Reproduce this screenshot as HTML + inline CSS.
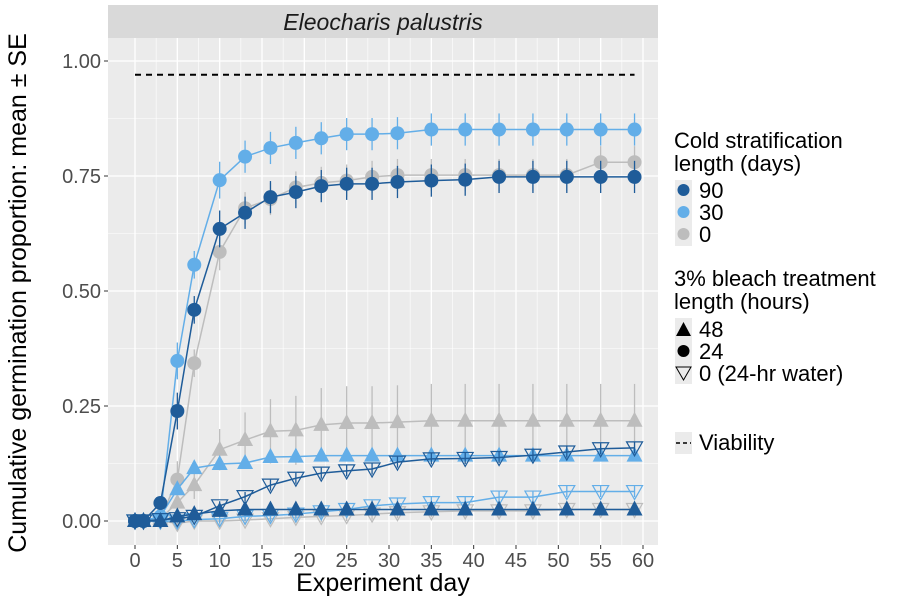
<!DOCTYPE html>
<html><head><meta charset="utf-8"><style>
body{margin:0;background:#fff;}
svg text{font-family:"Liberation Sans",Arial,sans-serif;}
</style></head><body>
<svg id="chart" width="904" height="603" xmlns="http://www.w3.org/2000/svg">
<rect x="0" y="0" width="904" height="603" fill="#fff"/>
<rect x="108" y="5" width="550" height="33" fill="#d9d9d9"/>
<text x="383" y="30" text-anchor="middle" font-size="23" font-style="italic" fill="#1a1a1a">Eleocharis palustris</text>
<rect x="108" y="38" width="550" height="507" fill="#ebebeb"/>
<g id="grid"></g>
<g id="ticks"></g>
<line id="viab" stroke="#000" stroke-width="2" stroke-dasharray="6,5"/>
<g id="series"></g>
<text transform="translate(26,293) rotate(-90)" text-anchor="middle" font-size="25" fill="#000">Cumulative germination proportion: mean ± SE</text>
<text x="383" y="591" text-anchor="middle" font-size="25" fill="#000">Experiment day</text>
<g font-size="22" fill="#000">
<text x="674" y="148">Cold stratification</text>
<text x="674" y="171">length (days)</text>
<rect x="675" y="180" width="17" height="66" fill="#ebebeb"/>
<circle cx="683.5" cy="190" r="6" fill="#1f5c99"/><text x="699" y="198">90</text>
<circle cx="683.5" cy="212" r="6" fill="#63aee8"/><text x="699" y="220">30</text>
<circle cx="683.5" cy="234" r="6" fill="#bdbdbd"/><text x="699" y="242">0</text>
<text x="674" y="286">3% bleach treatment</text>
<text x="674" y="309">length (hours)</text>
<rect x="675" y="318" width="17" height="66" fill="#ebebeb"/>
<polygon points="676,336 691,336 683.5,322" fill="#000"/><text x="699" y="337">48</text>
<circle cx="683.5" cy="351" r="6" fill="#000"/><text x="699" y="359">24</text>
<polygon points="676,367 691,367 683.5,380" fill="none" stroke="#000" stroke-width="1"/><text x="699" y="381">0 (24-hr water)</text>
<rect x="675" y="432" width="17" height="22" fill="#ebebeb"/>
<line x1="676" y1="443" x2="691" y2="443" stroke="#000" stroke-width="1.5" stroke-dasharray="4,3"/>
<text x="699" y="450">Viability</text>
</g>
</svg>
<script>
const days=[0,1,3,5,7,10,13,16,19,22,25,28,31,35,39,43,47,51,55,59];
const c90=[0,0,0.039,0.239,0.459,0.635,0.670,0.704,0.715,0.728,0.733,0.733,0.737,0.740,0.742,0.748,0.748,0.748,0.748,0.748];
const c30=[0,0,0.01,0.348,0.557,0.741,0.792,0.811,0.822,0.832,0.841,0.841,0.843,0.851,0.851,0.851,0.851,0.851,0.851,0.851];
const c0=[0,0,0.005,0.09,0.343,0.585,0.680,0.700,0.725,0.735,0.740,0.748,0.752,0.752,0.752,0.752,0.752,0.752,0.780,0.780];
const t90=[0,0,0,0.01,0.015,0.022,0.025,0.025,0.025,0.025,0.025,0.025,0.025,0.025,0.025,0.025,0.025,0.025,0.025,0.025];
const t30=[0,0,0.01,0.069,0.115,0.124,0.126,0.139,0.140,0.142,0.142,0.142,0.142,0.142,0.142,0.142,0.142,0.142,0.142,0.142];
const t0=[0,0,0.005,0.04,0.078,0.155,0.176,0.195,0.197,0.209,0.213,0.213,0.215,0.218,0.218,0.218,0.218,0.218,0.218,0.218];
const w90=[0,0,0.003,0.005,0.01,0.033,0.053,0.078,0.093,0.104,0.109,0.113,0.128,0.135,0.136,0.138,0.143,0.150,0.157,0.159];
const w30=[0,0,0,0,0.003,0.005,0.01,0.012,0.015,0.02,0.025,0.033,0.037,0.04,0.04,0.052,0.052,0.064,0.064,0.064];
const w0=[0,0,0,-0.005,0,0,0.002,0.005,0.008,0.01,0.012,0.015,0.018,0.02,0.022,0.022,0.022,0.025,0.025,0.025];
const seC=[0,0,0.01,0.04,0.03,0.04,0.035,0.035,0.035,0.035,0.035,0.035,0.035,0.035,0.035,0.035,0.035,0.035,0.035,0.035];
const seT0=[0,0,0.005,0.03,0.03,0.045,0.06,0.07,0.075,0.08,0.08,0.08,0.08,0.08,0.08,0.08,0.08,0.08,0.08,0.08];
const seS=[0,0,0,0.005,0.008,0.01,0.01,0.012,0.012,0.012,0.012,0.012,0.012,0.012,0.012,0.012,0.012,0.012,0.012,0.012];
const yTicks=[0,0.25,0.5,0.75,1.0];
const yLabels=["0.00","0.25","0.50","0.75","1.00"];
const xTicks=[0,5,10,15,20,25,30,35,40,45,50,55,60];
const viability=0.97;
const X=d=>135+d*(508/60);
const Y=v=>521-v*460;
const NS="http://www.w3.org/2000/svg";
function mk(p,t,a){const e=document.createElementNS(NS,t);for(const k in a)e.setAttribute(k,a[k]);p.appendChild(e);return e;}
const grid=document.getElementById('grid'),ticks=document.getElementById('ticks');
for(let v=0.125;v<1.1;v+=0.25){const g=mk(grid,'line',{x1:108,x2:658,y1:Y(v),y2:Y(v),stroke:'#fff','stroke-width':0.6});

}
for(let d=2.5;d<62;d+=5){const g=mk(grid,'line',{x1:X(d),x2:X(d),y1:38,y2:545,stroke:'#fff','stroke-width':0.6});

}
yTicks.forEach((v,i)=>{const g=mk(grid,'line',{x1:108,x2:658,y1:Y(v),y2:Y(v),stroke:'#fff','stroke-width':1.3});


mk(ticks,'line',{x1:104,x2:108,y1:Y(v),y2:Y(v),stroke:'#333'});
const t=mk(ticks,'text',{x:101,y:Y(v)+7,'text-anchor':'end','font-size':20,fill:'#4d4d4d'});t.textContent=yLabels[i];

});
xTicks.forEach(d=>{const g=mk(grid,'line',{x1:X(d),x2:X(d),y1:38,y2:545,stroke:'#fff','stroke-width':1.3});


mk(ticks,'line',{x1:X(d),x2:X(d),y1:545,y2:549,stroke:'#333'});
const t=mk(ticks,'text',{x:X(d),y:567,'text-anchor':'middle','font-size':20,fill:'#4d4d4d'});t.textContent=d;

});
const vl=document.getElementById('viab');
vl.setAttribute('x1',X(0));vl.setAttribute('x2',X(59));vl.setAttribute('y1',Y(viability));vl.setAttribute('y2',Y(viability));
const sg=document.getElementById('series');
const D='#1f5c99',L='#63aee8',G='#bdbdbd';
const series=[
 {n:'gray-triangle',v:t0,se:seT0,c:G,s:'tri'},
 {n:'gray-circle',v:c0,se:seC,c:G,s:'cir'},
 {n:'gray-water',v:w0,se:seS,c:G,s:'inv'},
 {n:'light-water',v:w30,se:seS,c:L,s:'inv'},
 {n:'light-triangle',v:t30,se:seS,c:L,s:'tri'},
 {n:'light-circle',v:c30,se:seC,c:L,s:'cir'},
 {n:'dark-water',v:w90,se:seS,c:D,s:'inv'},
 {n:'dark-triangle',v:t90,se:seS,c:D,s:'tri'},
 {n:'dark-circle',v:c90,se:seC,c:D,s:'cir'}];
series.forEach(S=>{
 const g=mk(sg,'g',{});
 
 
 mk(g,'polyline',{points:days.map((d,i)=>X(d)+','+Y(S.v[i])).join(' '),fill:'none',stroke:S.c,'stroke-width':1.5});
 days.forEach((d,i)=>{
  const x=X(d),y=Y(S.v[i]);
  mk(g,'line',{x1:x,x2:x,y1:Y(S.v[i]+S.se[i]),y2:Y(S.v[i]-S.se[i]),stroke:S.c,'stroke-width':1.3});
  let m;
  if(S.s==='cir')m=mk(g,'circle',{cx:x,cy:y,r:7,fill:S.c});
  else if(S.s==='tri')m=mk(g,'polygon',{points:`${x-8},${y+6} ${x+8},${y+6} ${x},${y-9}`,fill:S.c});
  else m=mk(g,'polygon',{points:`${x-8},${y-6} ${x+8},${y-6} ${x},${y+8}`,fill:'none',stroke:S.c,'stroke-width':1.2});
  
  
 });
});
</script>
</body></html>
